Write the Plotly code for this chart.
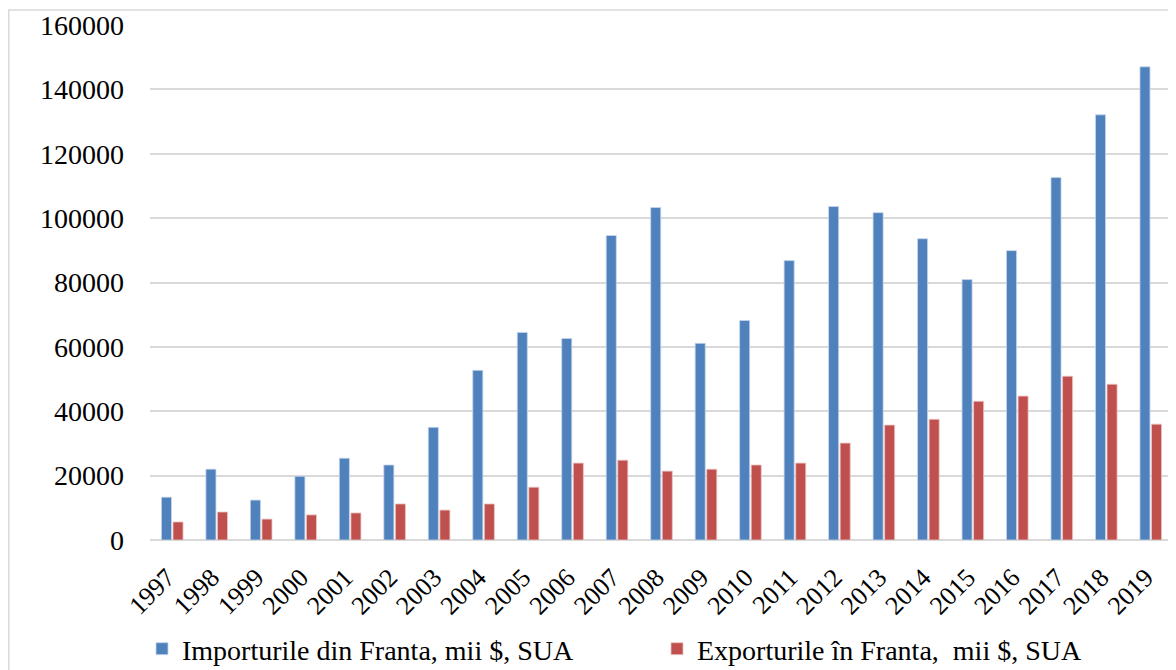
import plotly.graph_objects as go

years = [str(y) for y in range(1997, 2020)]
imports = [13300, 22000, 12400, 19800, 25400, 23300, 35000, 52700, 64500, 62600,
           94600, 103300, 61100, 68200, 86800, 103600, 101700, 93600, 80900, 89900,
           112600, 132100, 147000]
exports = [5600, 8700, 6500, 7800, 8400, 11200, 9300, 11200, 16400, 23900,
           24800, 21400, 22000, 23300, 23900, 30100, 35700, 37500, 43100, 44700,
           50900, 48400, 36000]
name_imp = "Importurile din Franta, mii $, SUA"
name_exp = "Exporturile în Franta,  mii $, SUA"

# page body has an 8px margin: work in figure coordinates = picture - 8
W, H = 1168, 662
L, R, T, B = 142, 3, 17, 130
FONT = "Liberation Serif"

fig = go.Figure()
fig.add_trace(go.Bar(x=years, y=imports, name=name_imp,
                     marker=dict(color="#4F81BD", line=dict(color="#c6d6ea", width=0.8))))
fig.add_trace(go.Bar(x=years, y=exports, name=name_exp,
                     marker=dict(color="#C0504D", line=dict(color="#ebc6c5", width=0.8))))

pw = W - L - R
ph = H - T - B
fig.update_layout(
    width=W, height=H,
    margin=dict(l=L, r=R, t=T, b=B, autoexpand=False),
    paper_bgcolor="white", plot_bgcolor="white",
    barmode="group", bargap=0.48, bargroupgap=0.13,
    font=dict(family=FONT, size=26, color="black"),
    showlegend=True,
    legend=dict(orientation="h", x=(134 - L) / pw, xanchor="left",
                y=-(641 - (H - B)) / ph, yanchor="middle",
                font=dict(family=FONT, size=28, color="black"),
                entrywidth=470, entrywidthmode="pixels",
                bgcolor="rgba(0,0,0,0)"),
    xaxis=dict(type="category", tickangle=-45, showgrid=False, showline=False,
               ticks="", automargin=False, ticklabelstandoff=16, ticklabelshift=-5,
               tickfont=dict(family=FONT, size=26, color="black")),
    yaxis=dict(range=[0, 160000], dtick=20000, showgrid=True, gridcolor="#d9d9d9",
               gridwidth=1.5, zeroline=True, zerolinecolor="#d9d9d9", zerolinewidth=1.5,
               showline=False, ticks="", tickformat="d", ticklabelstandoff=25,
               automargin=False,
               tickfont=dict(family=FONT, size=28, color="black")),
    shapes=[dict(type="rect", xref="paper", yref="paper",
                 x0=(0.8 - L) / pw, x1=(W + 5 - L) / pw,
                 y0=-(H + 5 - (H - B)) / ph, y1=1 + (T - 2) / ph,
                 line=dict(color="#d9d9d9", width=1.5), fillcolor="rgba(0,0,0,0)",
                 layer="below")],
)
fig.write_html("out.html")
